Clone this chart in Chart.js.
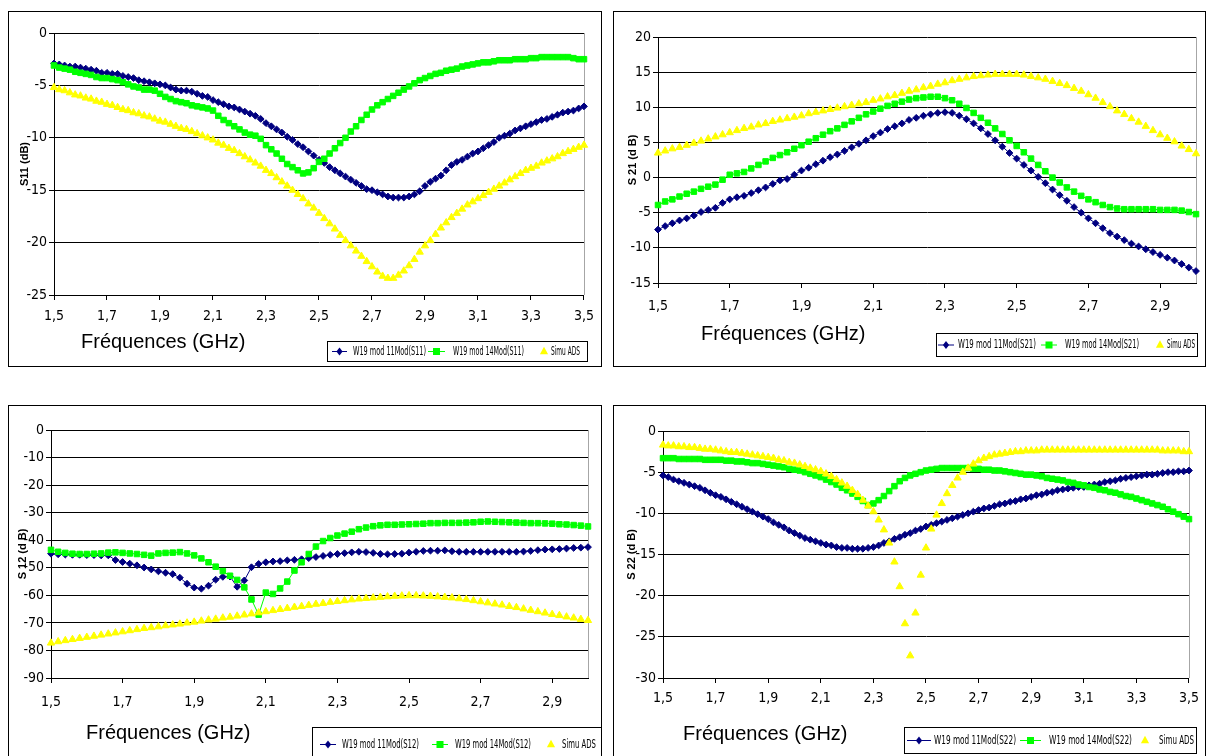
<!DOCTYPE html>
<html>
<head>
<meta charset="utf-8">
<script src="https://cdn.jsdelivr.net/npm/chart.js@4.4.0/dist/chart.umd.min.js"></script>
<style>
  html, body { margin: 0; padding: 0; background: #fff; overflow: hidden; width: 1207px; height: 756px; }
  .panel { position: absolute; }
  canvas { display: block; }
</style>
</head>
<body>
<div class="panel" style="left:8px;top:11px"><canvas id="cS11" width="594" height="356"></canvas></div>
<div class="panel" style="left:613px;top:11px"><canvas id="cS21" width="593" height="356"></canvas></div>
<div class="panel" style="left:8px;top:405px"><canvas id="cS12" width="594" height="360"></canvas></div>
<div class="panel" style="left:613px;top:405px"><canvas id="cS22" width="593" height="360"></canvas></div>

<script>
// --- Données (lues sur les courbes, pas de 0,02 GHz) ---
const freqGHz = [
  1.50, 1.52, 1.54, 1.56, 1.58, 1.60, 1.62, 1.64, 1.66, 1.68,
  1.70, 1.72, 1.74, 1.76, 1.78, 1.80, 1.82, 1.84, 1.86, 1.88,
  1.90, 1.92, 1.94, 1.96, 1.98, 2.00, 2.02, 2.04, 2.06, 2.08,
  2.10, 2.12, 2.14, 2.16, 2.18, 2.20, 2.22, 2.24, 2.26, 2.28,
  2.30, 2.32, 2.34, 2.36, 2.38, 2.40, 2.42, 2.44, 2.46, 2.48,
  2.50, 2.52, 2.54, 2.56, 2.58, 2.60, 2.62, 2.64, 2.66, 2.68,
  2.70, 2.72, 2.74, 2.76, 2.78, 2.80, 2.82, 2.84, 2.86, 2.88,
  2.90, 2.92, 2.94, 2.96, 2.98, 3.00, 3.02, 3.04, 3.06, 3.08,
  3.10, 3.12, 3.14, 3.16, 3.18, 3.20, 3.22, 3.24, 3.26, 3.28,
  3.30, 3.32, 3.34, 3.36, 3.38, 3.40, 3.42, 3.44, 3.46, 3.48,
  3.50
];
const tickLabels = ['1,5', '1,7', '1,9', '2,1', '2,3', '2,5', '2,7', '2,9', '3,1', '3,3', '3,5'];
const xTitleText = 'Fréquences (GHz)';

// S11 : 1,5 -> 3,5 GHz
const namesS11 = ['W19 mod 11Mod(S11)', 'W19 mod 14Mod(S11)', 'Simu ADS'];
const s11Mod11 = [
  -2.9, -3.0, -3.1, -3.2, -3.2, -3.3, -3.4, -3.5, -3.6, -3.8,
  -3.8, -3.9, -3.9, -4.1, -4.2, -4.3, -4.5, -4.6, -4.7, -4.8,
  -4.9, -5.0, -5.2, -5.4, -5.5, -5.5, -5.6, -5.8, -6.0, -6.1,
  -6.4, -6.6, -6.8, -7.0, -7.1, -7.3, -7.5, -7.7, -7.9, -8.2,
  -8.6, -8.9, -9.2, -9.5, -9.9, -10.2, -10.6, -10.9, -11.3, -11.7,
  -12.1, -12.4, -12.8, -13.1, -13.4, -13.7, -14.0, -14.3, -14.6, -14.9,
  -15.0, -15.2, -15.4, -15.6, -15.7, -15.7, -15.7, -15.6, -15.4, -15.1,
  -14.6, -14.2, -13.9, -13.6, -13.1, -12.6, -12.3, -12.1, -11.8, -11.5,
  -11.3, -11.0, -10.7, -10.4, -10.0, -9.8, -9.6, -9.3, -9.1, -8.9,
  -8.7, -8.5, -8.3, -8.2, -8.0, -7.8, -7.6, -7.5, -7.4, -7.2,
  -7.0
];
const s11Mod14 = [
  -3.1, -3.3, -3.4, -3.5, -3.7, -3.8, -3.9, -4.0, -4.2, -4.3,
  -4.3, -4.4, -4.5, -4.7, -4.9, -5.1, -5.2, -5.4, -5.4, -5.5,
  -5.8, -6.1, -6.3, -6.5, -6.6, -6.7, -6.9, -7.0, -7.1, -7.2,
  -7.4, -7.9, -8.3, -8.6, -8.9, -9.2, -9.5, -9.7, -9.8, -10.1,
  -10.7, -11.1, -11.5, -12.0, -12.5, -12.8, -13.1, -13.4, -13.3, -12.9,
  -12.3, -12.0, -11.5, -11.0, -10.5, -10.0, -9.4, -8.9, -8.3, -7.8,
  -7.3, -6.9, -6.6, -6.3, -6.0, -5.7, -5.4, -5.1, -4.8, -4.5,
  -4.3, -4.1, -3.9, -3.8, -3.6, -3.5, -3.4, -3.2, -3.1, -3.0,
  -2.9, -2.8, -2.8, -2.7, -2.6, -2.6, -2.6, -2.5, -2.5, -2.5,
  -2.4, -2.4, -2.3, -2.3, -2.3, -2.3, -2.3, -2.3, -2.4, -2.5,
  -2.5
];
const s11Ads = [
  -5.2, -5.4, -5.5, -5.7, -5.9, -6.0, -6.2, -6.3, -6.5, -6.6,
  -6.8, -6.9, -7.1, -7.3, -7.4, -7.6, -7.7, -7.9, -8.0, -8.2,
  -8.4, -8.5, -8.7, -8.9, -9.1, -9.2, -9.4, -9.6, -9.8, -10.0,
  -10.2, -10.5, -10.7, -11.0, -11.2, -11.5, -11.8, -12.1, -12.4, -12.7,
  -13.1, -13.4, -13.8, -14.2, -14.6, -15.0, -15.4, -15.8, -16.3, -16.7,
  -17.2, -17.7, -18.2, -18.7, -19.3, -19.8, -20.3, -20.8, -21.3, -21.8,
  -22.3, -22.8, -23.2, -23.4, -23.4, -23.1, -22.7, -22.2, -21.6, -20.9,
  -20.3, -19.8, -19.2, -18.6, -18.1, -17.6, -17.2, -16.8, -16.4, -16.1,
  -15.8, -15.5, -15.2, -14.9, -14.6, -14.3, -14.0, -13.7, -13.4, -13.1,
  -12.9, -12.7, -12.4, -12.2, -12.0, -11.8, -11.5, -11.3, -11.1, -10.9,
  -10.7
];

// S21 : 1,5 -> 3,0 GHz
const namesS21 = ['W19 mod 11Mod(S21)', 'W19 mod 14Mod(S21)', 'Simu ADS'];
const s21Mod11 = [
  -7.4, -6.9, -6.5, -6.1, -5.8, -5.4, -4.9, -4.6, -4.3, -3.6,
  -3.1, -2.8, -2.6, -2.2, -1.8, -1.4, -0.9, -0.4, -0.2, 0.4,
  1.0, 1.4, 1.9, 2.4, 2.9, 3.3, 3.8, 4.3, 4.8, 5.3,
  5.9, 6.4, 6.9, 7.3, 7.7, 8.2, 8.5, 8.8, 9.0, 9.2,
  9.3, 9.2, 8.8, 8.3, 7.7, 7.0, 6.2, 5.3, 4.4, 3.5,
  2.7, 1.8, 1.0, 0.1, -0.8, -1.7, -2.5, -3.3, -4.2, -5.0,
  -5.8, -6.5, -7.2, -7.9, -8.4, -8.9, -9.4, -9.8, -10.2, -10.6,
  -11.0, -11.4, -11.8, -12.3, -12.8, -13.3
];
const s21Mod14 = [
  -3.9, -3.4, -3.1, -2.7, -2.3, -2.0, -1.6, -1.3, -1.0, -0.3,
  0.4, 0.6, 0.8, 1.3, 1.8, 2.3, 2.8, 3.2, 3.6, 4.1,
  4.6, 5.1, 5.6, 6.1, 6.6, 7.0, 7.5, 8.0, 8.5, 9.0,
  9.4, 9.8, 10.2, 10.5, 10.8, 11.1, 11.3, 11.4, 11.5, 11.5,
  11.3, 11.0, 10.5, 9.9, 9.2, 8.5, 7.8, 7.0, 6.2, 5.3,
  4.5, 3.6, 2.7, 1.8, 0.9, 0.0, -0.7, -1.4, -2.0, -2.6,
  -3.1, -3.5, -3.9, -4.2, -4.4, -4.5, -4.5, -4.5, -4.5, -4.5,
  -4.6, -4.6, -4.6, -4.7, -4.9, -5.2
];
const s21Ads = [
  3.5, 3.8, 4.1, 4.3, 4.6, 4.9, 5.2, 5.5, 5.8, 6.1,
  6.4, 6.7, 7.0, 7.2, 7.5, 7.7, 8.0, 8.2, 8.4, 8.6,
  8.8, 9.1, 9.3, 9.5, 9.7, 9.9, 10.1, 10.3, 10.5, 10.7,
  11.0, 11.2, 11.5, 11.7, 12.0, 12.3, 12.5, 12.8, 13.0, 13.3,
  13.5, 13.8, 14.0, 14.2, 14.4, 14.5, 14.6, 14.7, 14.7, 14.7,
  14.7, 14.6, 14.4, 14.2, 14.0, 13.7, 13.4, 13.1, 12.7, 12.3,
  11.8, 11.3, 10.7, 10.1, 9.5, 9.0, 8.4, 7.9, 7.3, 6.7,
  6.1, 5.6, 5.1, 4.5, 4.0, 3.4
];

// S12 : 1,5 -> 3,0 GHz
const namesS12 = ['W19 mod 11Mod(S12)', 'W19 mod 14Mod(S12)', 'Simu ADS'];
const s12Mod11 = [
  -44.9, -45.1, -45.2, -45.3, -45.3, -45.4, -45.4, -45.5, -45.5, -47.2,
  -47.9, -48.5, -49.1, -49.9, -50.6, -51.3, -51.8, -52.3, -53.6, -55.8,
  -57.2, -57.6, -56.5, -54.3, -53.3, -53.2, -56.9, -54.6, -49.8, -48.6,
  -48.0, -47.7, -47.6, -47.3, -47.1, -46.9, -46.5, -46.1, -45.7, -45.3,
  -45.0, -44.7, -44.4, -44.2, -44.3, -44.6, -45.0, -45.1, -45.0, -44.9,
  -44.5, -44.2, -43.9, -43.8, -43.8, -43.7, -44.0, -44.2, -44.2, -44.2,
  -44.2, -44.2, -44.2, -44.2, -44.2, -44.2, -44.1, -43.9, -43.6, -43.4,
  -43.3, -43.2, -43.0, -42.8, -42.7, -42.5
];
const s12Mod14 = [
  -43.5, -44.2, -44.6, -44.9, -45.0, -45.0, -44.9, -44.8, -44.5, -44.4,
  -44.6, -44.8, -45.0, -45.3, -45.6, -44.8, -44.6, -44.5, -44.3, -44.8,
  -45.5, -46.6, -48.0, -49.6, -51.2, -52.9, -54.4, -57.1, -61.5, -67.0,
  -59.0, -59.5, -57.5, -55.0, -51.0, -48.0, -45.0, -42.3, -40.3, -39.2,
  -38.3, -37.6, -36.9, -36.0, -35.4, -34.9, -34.6, -34.4, -34.4, -34.3,
  -34.2, -34.1, -34.0, -33.8, -33.8, -33.7, -33.7, -33.7, -33.6, -33.5,
  -33.3, -33.2, -33.3, -33.4, -33.5, -33.6, -33.7, -33.8, -33.8, -33.9,
  -34.0, -34.2, -34.3, -34.5, -34.7, -35.0
];
const s12Ads = [
  -77.3, -76.8, -76.4, -76.0, -75.6, -75.2, -74.8, -74.4, -74.0, -73.6,
  -73.2, -72.8, -72.4, -72.0, -71.7, -71.4, -71.0, -70.7, -70.4, -70.0,
  -69.7, -69.3, -68.9, -68.6, -68.2, -67.9, -67.5, -67.1, -66.7, -66.3,
  -65.9, -65.5, -65.1, -64.7, -64.3, -64.0, -63.6, -63.2, -62.9, -62.5,
  -62.2, -61.9, -61.6, -61.3, -61.1, -60.9, -60.7, -60.5, -60.3, -60.2,
  -60.1, -60.1, -60.2, -60.3, -60.5, -60.7, -60.9, -61.2, -61.5, -61.9,
  -62.3, -62.7, -63.1, -63.5, -64.0, -64.4, -64.9, -65.4, -65.9, -66.4,
  -66.9, -67.3, -67.8, -68.2, -68.7, -69.1
];

// S22 : 1,5 -> 3,5 GHz
const namesS22 = ['W19 mod 11Mod(S22)', 'W19 mod 14Mod(S22)', 'Simu ADS'];
const s22Mod11 = [
  -5.4, -5.6, -5.9, -6.1, -6.3, -6.5, -6.7, -6.9, -7.2, -7.5,
  -7.8, -8.0, -8.3, -8.6, -8.9, -9.2, -9.5, -9.8, -10.1, -10.4,
  -10.7, -11.1, -11.4, -11.7, -12.1, -12.4, -12.7, -13.0, -13.2, -13.4,
  -13.6, -13.8, -13.9, -14.1, -14.2, -14.2, -14.3, -14.3, -14.3, -14.2,
  -14.1, -13.9, -13.6, -13.4, -13.1, -12.9, -12.6, -12.4, -12.1, -11.9,
  -11.6, -11.4, -11.2, -11.0, -10.8, -10.6, -10.4, -10.2, -10.0, -9.8,
  -9.6, -9.4, -9.3, -9.1, -8.9, -8.8, -8.6, -8.5, -8.3, -8.2,
  -8.0, -7.8, -7.7, -7.5, -7.4, -7.2, -7.1, -7.0, -6.9, -6.8,
  -6.8, -6.6, -6.5, -6.4, -6.2, -6.1, -6.0, -5.8, -5.7, -5.6,
  -5.5, -5.4, -5.3, -5.3, -5.2, -5.1, -5.0, -5.0, -4.9, -4.9,
  -4.8
];
const s22Mod14 = [
  -3.3, -3.3, -3.3, -3.4, -3.4, -3.4, -3.4, -3.4, -3.5, -3.5,
  -3.5, -3.5, -3.6, -3.6, -3.7, -3.7, -3.8, -3.9, -3.9, -4.0,
  -4.1, -4.2, -4.3, -4.4, -4.6, -4.7, -4.8, -5.0, -5.2, -5.4,
  -5.6, -5.9, -6.2, -6.5, -6.9, -7.2, -7.6, -8.0, -8.5, -9.0,
  -8.8, -8.4, -7.9, -7.3, -6.7, -6.1, -5.7, -5.4, -5.2, -5.0,
  -4.8, -4.7, -4.6, -4.5, -4.5, -4.5, -4.5, -4.5, -4.5, -4.6,
  -4.6, -4.7, -4.7, -4.8, -4.8, -4.9, -5.0, -5.1, -5.2, -5.3,
  -5.3, -5.4, -5.5, -5.7, -5.8, -5.9, -6.0, -6.2, -6.3, -6.5,
  -6.6, -6.8, -6.9, -7.1, -7.2, -7.4, -7.5, -7.7, -7.9, -8.0,
  -8.2, -8.4, -8.6, -8.8, -9.0, -9.2, -9.5, -9.8, -10.1, -10.4,
  -10.7
];
const s22Ads = [
  -1.7, -1.8, -1.8, -1.9, -1.9, -2.0, -2.0, -2.1, -2.2, -2.2,
  -2.3, -2.4, -2.5, -2.6, -2.6, -2.7, -2.8, -2.9, -3.0, -3.1,
  -3.2, -3.3, -3.5, -3.6, -3.8, -3.9, -4.1, -4.3, -4.5, -4.7,
  -4.9, -5.2, -5.5, -5.9, -6.3, -6.7, -7.2, -7.7, -8.4, -9.1,
  -9.8, -10.8, -12.0, -13.6, -15.9, -18.9, -23.4, -27.3, -22.1, -17.5,
  -14.2, -11.9, -10.2, -8.8, -7.6, -6.6, -5.7, -5.0, -4.5, -4.0,
  -3.6, -3.3, -3.1, -2.9, -2.8, -2.7, -2.6, -2.5, -2.5, -2.4,
  -2.4, -2.4, -2.3, -2.3, -2.3, -2.3, -2.3, -2.3, -2.3, -2.3,
  -2.3, -2.3, -2.3, -2.3, -2.3, -2.3, -2.3, -2.3, -2.3, -2.3,
  -2.3, -2.3, -2.3, -2.3, -2.3, -2.4, -2.4, -2.4, -2.4, -2.5,
  -2.5
];

// --- Mise en page (coordonnées dans chaque canvas) ---
const narrowFont = "'Liberation Sans Narrow', 'Arial Narrow', 'DejaVu Sans Condensed', sans-serif";
const tickFont = { family: narrowFont, size: 14 };

const layoutS11 = {
  yAxisW: 46, xAxisH: 72, padTop: 22, padRight: 13, yTitlePad: 10, tickPad: 8,
  xTitleX: 73, xTitleY: 331,
  legend: { x: 319, y: 330, w: 260, h: 20, size: 12,
            items: [[5, 20, 26, 99], [101, 118, 126, 197], [217, 217, 224, 253]] }
};
const layoutS21 = {
  yAxisW: 45, xAxisH: 84, padTop: 26, padRight: 8, yTitlePad: 13, tickPad: 10,
  xTitleX: 88, xTitleY: 323,
  legend: { x: 323, y: 322, w: 261, h: 23, size: 12,
            items: [[2, 18, 22, 100], [105, 121, 129, 203], [224, 224, 231, 259]] }
};
const layoutS12 = {
  yAxisW: 43, xAxisH: 87, padTop: 25, padRight: 14, yTitlePad: 8, tickPad: 11,
  xTitleX: 78, xTitleY: 328,
  legend: { x: 304, y: 322, w: 289, h: 34, size: 13,
            items: [[8, 24, 30, 107], [120, 136, 143, 219], [239, 239, 250, 284]] }
};
const layoutS22 = {
  yAxisW: 50, xAxisH: 87, padTop: 26, padRight: 11, yTitlePad: 12, tickPad: 7,
  xTitleX: 70, xTitleY: 329,
  legend: { x: 291, y: 322, w: 292, h: 26, size: 13,
            items: [[3, 27, 30, 112], [116, 137, 145, 228], [241, 241, 255, 290]] }
};

Chart.defaults.animation = false;

function drawMarker(ctx, style, x, y, r, color) {
  ctx.fillStyle = color;
  ctx.beginPath();
  if (style === 'rectRot') {
    ctx.moveTo(x, y - r); ctx.lineTo(x + r * 0.8, y); ctx.lineTo(x, y + r); ctx.lineTo(x - r * 0.8, y);
  } else if (style === 'rect') {
    const h = r * 0.8;
    ctx.rect(x - h, y - h, 2 * h, 2 * h);
  } else {
    ctx.moveTo(x, y - r); ctx.lineTo(x + r * 0.87, y + r * 0.6); ctx.lineTo(x - r * 0.87, y + r * 0.6);
  }
  ctx.closePath();
  ctx.fill();
}

// cadre, bord droit gris, titre X et légende encadrée
function makeDecor(lay) {
  return {
    id: 'decor',
    beforeDatasetsDraw(chart) {
      const { ctx, chartArea: a } = chart;
      const xr = Math.round(a.right) + 0.5;
      ctx.save();
      ctx.strokeStyle = '#a6a6a6';
      ctx.lineWidth = 1;
      ctx.beginPath(); ctx.moveTo(xr, a.top); ctx.lineTo(xr, a.bottom); ctx.stroke();
      ctx.restore();
    },
    afterDraw(chart) {
      const ctx = chart.ctx;
      ctx.save();
      ctx.strokeStyle = '#000';
      ctx.lineWidth = 1;
      ctx.strokeRect(0.5, 0.5, chart.width - 1, chart.height - 1);

      ctx.fillStyle = '#000';
      ctx.font = "20px 'Liberation Sans', Arial, sans-serif";
      ctx.textAlign = 'left';
      ctx.textBaseline = 'middle';
      ctx.fillText(xTitleText, lay.xTitleX, lay.xTitleY);

      const lg = lay.legend;
      ctx.fillStyle = '#fff';
      ctx.fillRect(lg.x, lg.y, lg.w, lg.h);
      ctx.strokeStyle = '#000';
      ctx.strokeRect(lg.x + 0.5, lg.y + 0.5, lg.w, lg.h);
      const cy = lg.y + lg.h / 2 + 0.5;
      ctx.font = lg.size + 'px ' + narrowFont;
      chart.data.datasets.forEach((ds, i) => {
        const [s0, s1, t0, t1] = lg.items[i];
        if (ds.showLine !== false) {
          ctx.strokeStyle = ds.borderColor;
          ctx.lineWidth = 1;
          ctx.beginPath(); ctx.moveTo(lg.x + s0, cy); ctx.lineTo(lg.x + s1, cy); ctx.stroke();
        }
        drawMarker(ctx, ds.pointStyle, lg.x + (s0 + s1) / 2, cy, ds.pointRadius + 0.5, ds.pointBackgroundColor);
        const tw = ctx.measureText(ds.label).width;
        ctx.save();
        ctx.translate(lg.x + t0, cy);
        ctx.scale((t1 - t0) / tw, 1);
        ctx.fillStyle = '#000';
        ctx.fillText(ds.label, 0, 0);
        ctx.restore();
      });
      ctx.restore();
    }
  };
}

function makeChart(canvasId, nPoints, series, names, yMin, yMax, yStep, yTitle, lay) {
  const labels = freqGHz.slice(0, nPoints).map(f => f.toFixed(2));
  const datasets = [
    { label: names[0], data: series[0], order: 3,
      borderColor: '#000080', backgroundColor: '#000080', borderWidth: 1,
      pointStyle: 'rectRot', pointRadius: 3.4, pointBorderWidth: 1,
      pointBackgroundColor: '#000080', pointBorderColor: '#000080' },
    { label: names[1], data: series[1], order: 2,
      borderColor: '#00ff00', backgroundColor: '#00ff00', borderWidth: 1,
      pointStyle: 'rect', pointRadius: 3.9, pointBorderWidth: 1,
      pointBackgroundColor: '#00ff00', pointBorderColor: '#00ff00' },
    { label: names[2], data: series[2], order: 1, showLine: false,
      borderColor: '#ffff00', backgroundColor: '#ffff00',
      pointStyle: 'triangle', pointRadius: 4.2, pointBorderWidth: 1,
      pointBackgroundColor: '#ffff00', pointBorderColor: '#ffff00' }
  ];
  return new Chart(document.getElementById(canvasId), {
    type: 'line',
    data: { labels: labels, datasets: datasets },
    options: {
      responsive: false,
      animation: false,
      layout: { padding: { left: 0, top: lay.padTop, right: lay.padRight, bottom: 0 } },
      plugins: { legend: { display: false }, tooltip: { enabled: false } },
      elements: { line: { tension: 0 } },
      scales: {
        x: {
          type: 'category',
          offset: false,
          grid: {
            drawOnChartArea: false, drawTicks: true, tickLength: 5,
            color: c => (c.index % 10 === 0 ? '#000' : 'rgba(0,0,0,0)')
          },
          border: { display: true, color: '#000', width: 1 },
          ticks: {
            autoSkip: false, maxRotation: 0, minRotation: 0, padding: lay.tickPad,
            color: '#000', font: tickFont,
            callback: (v, i) => (i % 10 === 0 ? tickLabels[i / 10] : '')
          },
          afterFit: s => { s.height = lay.xAxisH; }
        },
        y: {
          min: yMin, max: yMax,
          grid: { color: '#000', lineWidth: 1, drawTicks: true, tickLength: 5 },
          border: { display: true, color: '#000', width: 1 },
          ticks: { stepSize: yStep, padding: 2, color: '#000', font: tickFont, callback: v => String(v) },
          title: {
            display: true, text: yTitle, color: '#000',
            font: { family: "'Liberation Sans', Arial, sans-serif", size: 11, weight: 'bold' },
            padding: { top: lay.yTitlePad, bottom: 0 }
          },
          afterFit: s => { s.width = lay.yAxisW; }
        }
      }
    },
    plugins: [makeDecor(lay)]
  });
}

makeChart('cS11', 101, [s11Mod11, s11Mod14, s11Ads], namesS11, -25, 0, 5, 'S11 (dB)', layoutS11);
makeChart('cS21', 76, [s21Mod11, s21Mod14, s21Ads], namesS21, -15, 20, 5, 'S 21 (d B)', layoutS21);
makeChart('cS12', 76, [s12Mod11, s12Mod14, s12Ads], namesS12, -90, 0, 10, 'S 12 (d B)', layoutS12);
makeChart('cS22', 101, [s22Mod11, s22Mod14, s22Ads], namesS22, -30, 0, 5, 'S 22 (d B)', layoutS22);
</script>
</body>
</html>
